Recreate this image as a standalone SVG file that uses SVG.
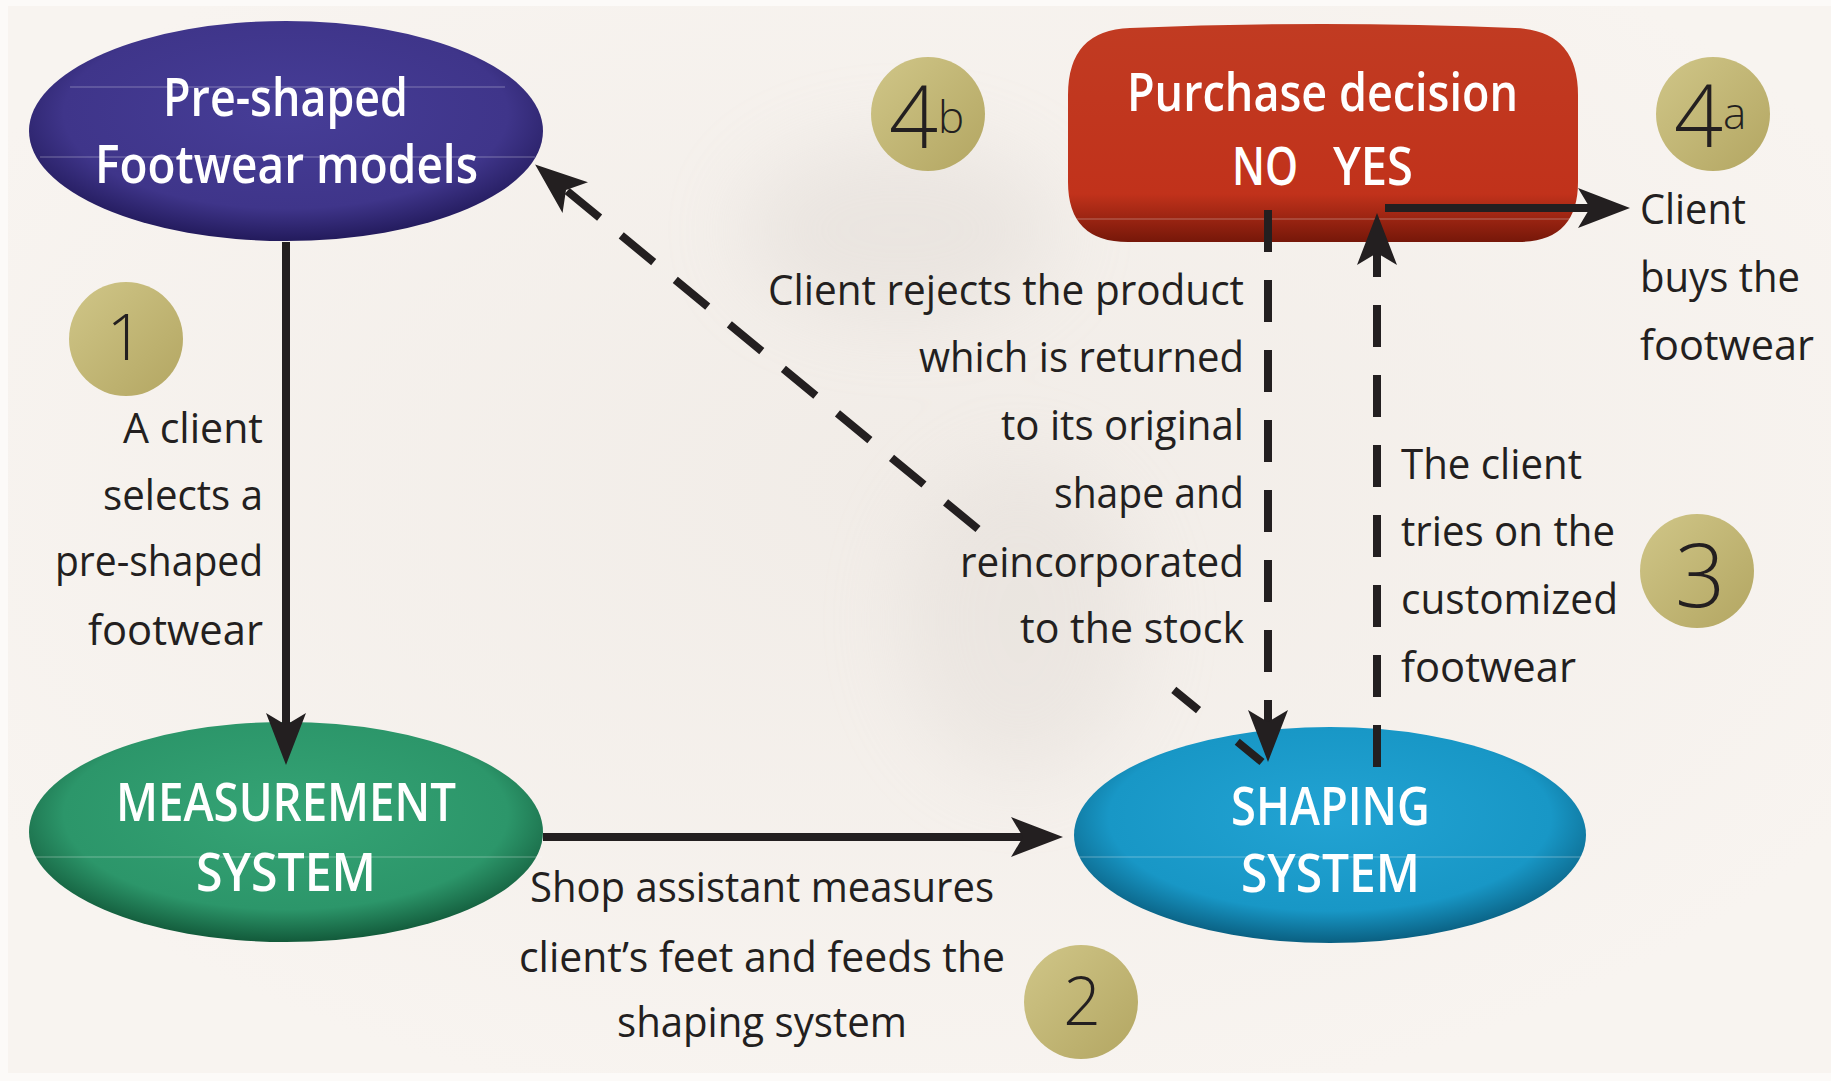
<svg xmlns="http://www.w3.org/2000/svg" width="1831" height="1081" viewBox="0 0 1831 1081">
<style>
.lbl{font-family:"Open Sans","Noto Sans","Liberation Sans",sans-serif;font-size:42px;fill:#231f20}
.ttl{font-family:"Open Sans","Noto Sans","Liberation Sans",sans-serif;font-size:52px;font-weight:600;fill:#ffffff}
.num{font-family:"Open Sans","Noto Sans","Liberation Sans",sans-serif;font-weight:300;fill:#231f20;text-anchor:middle}
.sub{font-family:"Open Sans","Noto Sans","Liberation Sans",sans-serif;font-weight:300;fill:#231f20}
.badge{fill:url(#gBadge)}
.solid{fill:none;stroke:#231f20;stroke-width:8}
.dash{fill:none;stroke:#231f20;stroke-width:8;stroke-dasharray:42 28}
.gloss{stroke:#ffffff;stroke-opacity:0.22;stroke-width:1.5}
</style>
<defs>
<radialGradient id="gPre" cx="50%" cy="42%" r="60%">
<stop offset="0" stop-color="#463d97"/>
<stop offset="0.72" stop-color="#3f358a"/>
<stop offset="1" stop-color="#1f1756"/>
</radialGradient>
<radialGradient id="gMeas" cx="50%" cy="42%" r="60%">
<stop offset="0" stop-color="#35a475"/>
<stop offset="0.72" stop-color="#2c966a"/>
<stop offset="1" stop-color="#0f5234"/>
</radialGradient>
<radialGradient id="gShape" cx="50%" cy="42%" r="60%">
<stop offset="0" stop-color="#22a3d3"/>
<stop offset="0.72" stop-color="#1897c6"/>
<stop offset="1" stop-color="#085878"/>
</radialGradient>
<linearGradient id="gBuy" x1="0" y1="0" x2="0" y2="1">
<stop offset="0" stop-color="#c13b22"/>
<stop offset="0.78" stop-color="#c1321b"/>
<stop offset="1" stop-color="#761709"/>
</linearGradient>
<linearGradient id="gBadge" x1="0" y1="0" x2="1" y2="1">
<stop offset="0" stop-color="#d0c688"/>
<stop offset="1" stop-color="#b3a662"/>
</linearGradient>
<radialGradient id="gBg" cx="50%" cy="45%" r="60%">
<stop offset="0" stop-color="#f1ece7"/>
<stop offset="1" stop-color="#f8f4f0"/>
</radialGradient>
<filter id="blur" x="-50%" y="-50%" width="200%" height="200%"><feGaussianBlur stdDeviation="40"/></filter>
<marker id="arr" markerUnits="userSpaceOnUse" markerWidth="60" markerHeight="44" refX="12" refY="21" orient="auto" overflow="visible">
<path d="M0,1 L52,21 L0,41 L12,21 Z" fill="#231f20"/>
</marker>
</defs>

<rect x="0" y="0" width="1831" height="1081" fill="#fcfaf8"/>
<rect x="8" y="6" width="1823" height="1067" fill="url(#gBg)"/>
<g filter="url(#blur)" opacity="0.25">
<ellipse cx="900" cy="230" rx="160" ry="90" fill="#cfc8c2"/>
<ellipse cx="1020" cy="620" rx="120" ry="160" fill="#d6cfc9"/>
</g>

<g id="node-preshaped">
<ellipse cx="286" cy="131" rx="257" ry="110" fill="url(#gPre)"/>
<line class="gloss" x1="70" y1="87" x2="505" y2="87"/>
<line class="gloss" x1="40" y1="157" x2="535" y2="157"/>
<text class="ttl" x="163" y="116" textLength="245" lengthAdjust="spacingAndGlyphs">Pre-shaped</text>
<text class="ttl" x="95" y="183" textLength="383" lengthAdjust="spacingAndGlyphs">Footwear models</text>
</g>

<g id="node-measurement">
<ellipse cx="286" cy="832" rx="257" ry="110" fill="url(#gMeas)"/>
<line class="gloss" x1="30" y1="857" x2="542" y2="857"/>
<text class="ttl" x="116" y="821" textLength="340" lengthAdjust="spacingAndGlyphs">MEASUREMENT</text>
<text class="ttl" x="196" y="891" textLength="180" lengthAdjust="spacingAndGlyphs">SYSTEM</text>
</g>

<g id="node-shaping">
<ellipse cx="1330" cy="835" rx="256" ry="108" fill="url(#gShape)"/>
<line class="gloss" x1="1076" y1="857" x2="1584" y2="857"/>
<text class="ttl" x="1231" y="825" textLength="199" lengthAdjust="spacingAndGlyphs">SHAPING</text>
<text class="ttl" x="1241" y="892" textLength="179" lengthAdjust="spacingAndGlyphs">SYSTEM</text>
</g>

<g id="node-purchase">
<path d="M1130,28 Q1322,20 1515,28 Q1578,30 1578,95 L1578,182 Q1578,242 1518,242 L1128,242 Q1068,242 1068,182 L1068,95 Q1068,30 1130,28 Z" fill="url(#gBuy)"/>
<line class="gloss" x1="1070" y1="219" x2="1576" y2="219"/>
<text class="ttl" x="1127" y="111" textLength="391" lengthAdjust="spacingAndGlyphs">Purchase decision</text>
<text class="ttl" x="1232" y="185" textLength="66" lengthAdjust="spacingAndGlyphs">NO</text>
<text class="ttl" x="1333" y="185" textLength="80" lengthAdjust="spacingAndGlyphs">YES</text>
</g>

<g id="connectors">
<line class="solid" x1="286" y1="242" x2="286" y2="725" marker-end="url(#arr)"/>
<line class="solid" x1="543" y1="837" x2="1023" y2="837" marker-end="url(#arr)"/>
<line class="dash" x1="1377" y1="767" x2="1377" y2="253" marker-end="url(#arr)"/>
<line class="solid" x1="1385" y1="208" x2="1590" y2="208" marker-end="url(#arr)"/>
<line class="dash" x1="1268" y1="210" x2="1268" y2="722" marker-end="url(#arr)"/>
<line class="dash" x1="1262" y1="762" x2="1141" y2="663" style="stroke-dasharray:32 50"/>
<line class="dash" x1="978" y1="529" x2="566" y2="190" marker-end="url(#arr)"/>
</g>

<g id="badge-1">
<circle class="badge" cx="126" cy="339" r="57"/>
<text class="num" x="125" y="360" font-size="64">1</text>
</g>
<g id="badge-2">
<circle class="badge" cx="1081" cy="1002" r="57"/>
<text class="num" x="1082" y="1025" font-size="66">2</text>
</g>
<g id="badge-3">
<circle class="badge" cx="1697" cy="571" r="57"/>
<text class="num" x="1700" y="607" font-size="88">3</text>
</g>
<g id="badge-4a">
<circle class="badge" cx="1713" cy="114" r="57"/>
<text class="sub" x="1674" y="147" font-size="86">4<tspan font-size="44" dy="-18">a</tspan></text>
</g>
<g id="badge-4b">
<circle class="badge" cx="928" cy="114" r="57"/>
<text class="sub" x="889" y="148" font-size="86">4<tspan font-size="44" dy="-15">b</tspan></text>
</g>

<g id="label-1">
<text class="lbl" x="123" y="443" textLength="140" lengthAdjust="spacingAndGlyphs">A client</text>
<text class="lbl" x="103" y="510" textLength="160" lengthAdjust="spacingAndGlyphs">selects a</text>
<text class="lbl" x="55" y="576" textLength="208" lengthAdjust="spacingAndGlyphs">pre-shaped</text>
<text class="lbl" x="88" y="645" textLength="175" lengthAdjust="spacingAndGlyphs">footwear</text>
</g>

<g id="label-2">
<text class="lbl" x="530" y="902" textLength="464" lengthAdjust="spacingAndGlyphs">Shop assistant measures</text>
<text class="lbl" x="519" y="972" textLength="486" lengthAdjust="spacingAndGlyphs">client’s feet and feeds the</text>
<text class="lbl" x="617" y="1037" textLength="290" lengthAdjust="spacingAndGlyphs">shaping system</text>
</g>

<g id="label-3">
<text class="lbl" x="1401" y="479" textLength="181" lengthAdjust="spacingAndGlyphs">The client</text>
<text class="lbl" x="1401" y="546" textLength="214" lengthAdjust="spacingAndGlyphs">tries on the</text>
<text class="lbl" x="1401" y="614" textLength="217" lengthAdjust="spacingAndGlyphs">customized</text>
<text class="lbl" x="1401" y="682" textLength="175" lengthAdjust="spacingAndGlyphs">footwear</text>
</g>

<g id="label-4a">
<text class="lbl" x="1640" y="224" textLength="106" lengthAdjust="spacingAndGlyphs">Client</text>
<text class="lbl" x="1640" y="292" textLength="160" lengthAdjust="spacingAndGlyphs">buys the</text>
<text class="lbl" x="1640" y="360" textLength="174" lengthAdjust="spacingAndGlyphs">footwear</text>
</g>

<g id="label-4b">
<text class="lbl" x="768" y="305" textLength="476" lengthAdjust="spacingAndGlyphs">Client rejects the product</text>
<text class="lbl" x="919" y="372" textLength="325" lengthAdjust="spacingAndGlyphs">which is returned</text>
<text class="lbl" x="1001" y="440" textLength="243" lengthAdjust="spacingAndGlyphs">to its original</text>
<text class="lbl" x="1054" y="508" textLength="190" lengthAdjust="spacingAndGlyphs">shape and</text>
<text class="lbl" x="960" y="577" textLength="284" lengthAdjust="spacingAndGlyphs">reincorporated</text>
<text class="lbl" x="1020" y="643" textLength="224" lengthAdjust="spacingAndGlyphs">to the stock</text>
</g>
</svg>
